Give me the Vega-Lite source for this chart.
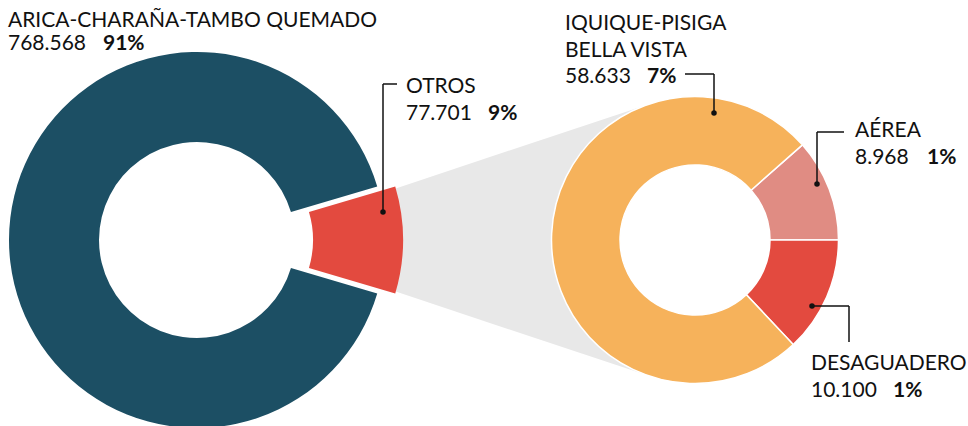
{
  "$schema": "https://vega.github.io/schema/vega-lite/v6.json",
  "width": 968,
  "height": 426,
  "autosize": {"type": "none"},
  "padding": 0,
  "background": "white",
  "config": {
    "view": {"stroke": null},
    "locale": {"number": {"decimal": ",", "thousands": ".", "grouping": [3], "currency": ["$", ""]}},
    "text": {"font": "Lato", "fontSize": 21, "color": "#111111", "align": "left", "baseline": "alphabetic"}
  },
  "datasets": {
    "total": [
      {"paso": "ARICA-CHARAÑA-TAMBO QUEMADO", "nombre": "ARICA-CHARAÑA-TAMBO QUEMADO", "valor": 768568, "pct": 0.9082, "orden": 2, "grupo": "Total"},
      {"paso": "OTROS", "nombre": "OTROS", "valor": 77701, "pct": 0.0918, "orden": 1, "grupo": "Total"}
    ],
    "otros": [
      {"paso": "AÉREA", "nombre": "AÉREA", "valor": 8968, "pct": 0.0106, "orden": 1, "grupo": "Otros"},
      {"paso": "DESAGUADERO", "nombre": "DESAGUADERO", "valor": 10100, "pct": 0.0119, "orden": 2, "grupo": "Otros"},
      {"paso": "IQUIQUE-PISIGA BELLA VISTA", "nombre": "IQUIQUE-PISIGA\nBELLA VISTA", "valor": 58633, "pct": 0.0693, "orden": 3, "grupo": "Otros"}
    ]
  },
  "encoding": {
    "x": {"field": "grupo", "type": "nominal", "axis": null, "scale": {"type": "point", "domain": ["Total", "Otros"], "range": [197, 695], "padding": 0}},
    "y": {"field": "grupo", "type": "nominal", "axis": null, "scale": {"type": "point", "domain": ["Total", "Otros"], "range": [240, 240], "padding": 0}}
  },
  "layer": [
    {
      "data": {"name": "total"},
      "transform": [{"filter": "datum.paso === 'OTROS'"}],
      "mark": {"type": "arc", "radius": 429, "radius2": 160, "color": "#e8e8e8", "xOffset": 44},
      "encoding": {
        "theta": {"field": "valor", "type": "quantitative", "scale": {"range": [1.24914, 1.89245], "zero": true, "nice": false}}
      }
    },
    {
      "data": {"name": "otros"},
      "mark": {"type": "arc", "radius": 76, "radius2": 0, "color": "white"},
      "encoding": {
        "theta": {"field": "valor", "type": "quantitative", "scale": {"range": [0.84561, 7.1288], "zero": true, "nice": false}},
        "order": {"field": "orden", "type": "quantitative"}
      }
    },
    {
      "data": {"name": "total"},
      "mark": {"type": "arc", "radius": 188, "radius2": 98},
      "encoding": {
        "theta": {"field": "valor", "type": "quantitative", "scale": {"range": [1.28236, 7.56555], "zero": true, "nice": false}},
        "order": {"field": "orden", "type": "quantitative"},
        "color": {"field": "paso", "type": "nominal", "legend": null,
          "scale": {"domain": ["ARICA-CHARAÑA-TAMBO QUEMADO", "OTROS", "AÉREA", "DESAGUADERO", "IQUIQUE-PISIGA BELLA VISTA"], "range": ["#1c4f64", "#e34a3f", "#e08c83", "#e34a3f", "#f6b25b"]}},
        "opacity": {"condition": {"test": "datum.paso === 'OTROS'", "value": 0}, "value": 1}
      }
    },
    {
      "data": {"name": "total"},
      "mark": {"type": "arc", "radius": 188, "radius2": 98, "xOffset": 18},
      "encoding": {
        "theta": {"field": "valor", "type": "quantitative", "scale": {"range": [1.28236, 7.56555], "zero": true, "nice": false}},
        "order": {"field": "orden", "type": "quantitative"},
        "color": {"field": "paso", "type": "nominal", "legend": null,
          "scale": {"domain": ["ARICA-CHARAÑA-TAMBO QUEMADO", "OTROS", "AÉREA", "DESAGUADERO", "IQUIQUE-PISIGA BELLA VISTA"], "range": ["#1c4f64", "#e34a3f", "#e08c83", "#e34a3f", "#f6b25b"]}},
        "opacity": {"condition": {"test": "datum.paso === 'OTROS'", "value": 1}, "value": 0}
      }
    },
    {
      "data": {"name": "otros"},
      "mark": {"type": "arc", "radius": 143.5, "radius2": 75, "stroke": "white", "strokeWidth": 1.5},
      "encoding": {
        "theta": {"field": "valor", "type": "quantitative", "scale": {"range": [0.84561, 7.1288], "zero": true, "nice": false}},
        "order": {"field": "orden", "type": "quantitative"},
        "color": {"field": "paso", "type": "nominal", "legend": null,
          "scale": {"domain": ["ARICA-CHARAÑA-TAMBO QUEMADO", "OTROS", "AÉREA", "DESAGUADERO", "IQUIQUE-PISIGA BELLA VISTA"], "range": ["#1c4f64", "#e34a3f", "#e08c83", "#e34a3f", "#f6b25b"]}}
      }
    },
    {
      "data": {"name": "total"},
      "transform": [{"filter": "datum.paso === 'ARICA-CHARAÑA-TAMBO QUEMADO'"}],
      "layer": [
        {"mark": {"type": "text", "dx": -189, "dy": -213}, "encoding": {"text": {"field": "nombre"}}},
        {"mark": {"type": "text", "dx": -189, "dy": -190}, "encoding": {"text": {"field": "valor", "type": "quantitative", "format": ",d"}}},
        {"mark": {"type": "text", "dx": -94, "dy": -190, "fontWeight": "bold"}, "encoding": {"text": {"field": "pct", "type": "quantitative", "format": ".0%"}}}
      ]
    },
    {
      "data": {"name": "total"},
      "transform": [{"filter": "datum.paso === 'OTROS'"}],
      "layer": [
        {"mark": {"type": "rule", "color": "#111111", "strokeWidth": 1.5, "xOffset": 186, "yOffset": -28, "y2Offset": -156}, "encoding": {"y2": {"field": "grupo"}}},
        {"mark": {"type": "rule", "color": "#111111", "strokeWidth": 1.5, "xOffset": 186, "x2Offset": 200, "yOffset": -156}, "encoding": {"x2": {"field": "grupo"}}},
        {"mark": {"type": "point", "filled": true, "size": 30, "color": "#111111", "opacity": 1, "xOffset": 186, "yOffset": -28}, "encoding": {}},
        {"mark": {"type": "text", "dx": 209, "dy": -147}, "encoding": {"text": {"field": "nombre"}}},
        {"mark": {"type": "text", "dx": 209, "dy": -120}, "encoding": {"text": {"field": "valor", "type": "quantitative", "format": ",d"}}},
        {"mark": {"type": "text", "dx": 291, "dy": -120, "fontWeight": "bold"}, "encoding": {"text": {"field": "pct", "type": "quantitative", "format": ".0%"}}}
      ]
    },
    {
      "data": {"name": "otros"},
      "transform": [{"filter": "datum.paso === 'IQUIQUE-PISIGA BELLA VISTA'"}],
      "layer": [
        {"mark": {"type": "rule", "color": "#111111", "strokeWidth": 1.5, "xOffset": 19, "yOffset": -127, "y2Offset": -166}, "encoding": {"y2": {"field": "grupo"}}},
        {"mark": {"type": "rule", "color": "#111111", "strokeWidth": 1.5, "xOffset": -10, "x2Offset": 19, "yOffset": -166}, "encoding": {"x2": {"field": "grupo"}}},
        {"mark": {"type": "point", "filled": true, "size": 30, "color": "#111111", "opacity": 1, "xOffset": 19, "yOffset": -127}, "encoding": {}},
        {"mark": {"type": "text", "dx": -130, "dy": -210, "lineBreak": "\n", "lineHeight": 27}, "encoding": {"text": {"field": "nombre"}}},
        {"mark": {"type": "text", "dx": -130, "dy": -157}, "encoding": {"text": {"field": "valor", "type": "quantitative", "format": ",d"}}},
        {"mark": {"type": "text", "dx": -48, "dy": -157, "fontWeight": "bold"}, "encoding": {"text": {"field": "pct", "type": "quantitative", "format": ".0%"}}}
      ]
    },
    {
      "data": {"name": "otros"},
      "transform": [{"filter": "datum.paso === 'AÉREA'"}],
      "layer": [
        {"mark": {"type": "rule", "color": "#111111", "strokeWidth": 1.5, "xOffset": 122, "yOffset": -56, "y2Offset": -108}, "encoding": {"y2": {"field": "grupo"}}},
        {"mark": {"type": "rule", "color": "#111111", "strokeWidth": 1.5, "xOffset": 122, "x2Offset": 149, "yOffset": -108}, "encoding": {"x2": {"field": "grupo"}}},
        {"mark": {"type": "point", "filled": true, "size": 30, "color": "#111111", "opacity": 1, "xOffset": 122, "yOffset": -56}, "encoding": {}},
        {"mark": {"type": "text", "dx": 160, "dy": -103}, "encoding": {"text": {"field": "nombre"}}},
        {"mark": {"type": "text", "dx": 160, "dy": -76}, "encoding": {"text": {"field": "valor", "type": "quantitative", "format": ",d"}}},
        {"mark": {"type": "text", "dx": 232, "dy": -76, "fontWeight": "bold"}, "encoding": {"text": {"field": "pct", "type": "quantitative", "format": ".0%"}}}
      ]
    },
    {
      "data": {"name": "otros"},
      "transform": [{"filter": "datum.paso === 'DESAGUADERO'"}],
      "layer": [
        {"mark": {"type": "rule", "color": "#111111", "strokeWidth": 1.5, "xOffset": 117, "x2Offset": 154, "yOffset": 66}, "encoding": {"x2": {"field": "grupo"}}},
        {"mark": {"type": "rule", "color": "#111111", "strokeWidth": 1.5, "xOffset": 154, "yOffset": 66, "y2Offset": 102}, "encoding": {"y2": {"field": "grupo"}}},
        {"mark": {"type": "point", "filled": true, "size": 30, "color": "#111111", "opacity": 1, "xOffset": 117, "yOffset": 66}, "encoding": {}},
        {"mark": {"type": "text", "dx": 116, "dy": 130}, "encoding": {"text": {"field": "nombre"}}},
        {"mark": {"type": "text", "dx": 116, "dy": 157}, "encoding": {"text": {"field": "valor", "type": "quantitative", "format": ",d"}}},
        {"mark": {"type": "text", "dx": 198, "dy": 157, "fontWeight": "bold"}, "encoding": {"text": {"field": "pct", "type": "quantitative", "format": ".0%"}}}
      ]
    }
  ],
  "resolve": {"scale": {"theta": "independent"}}
}
